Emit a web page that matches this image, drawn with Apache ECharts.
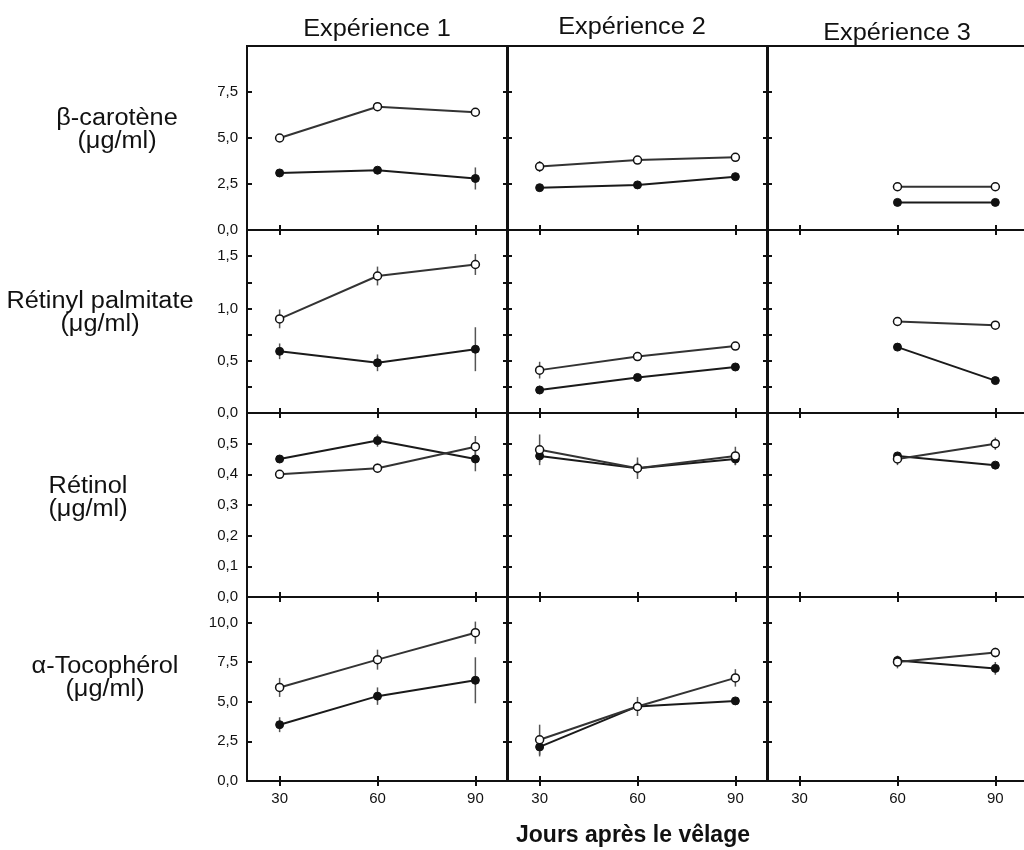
<!DOCTYPE html>
<html>
<head>
<meta charset="utf-8">
<script src="https://cdn.jsdelivr.net/npm/echarts@6/dist/echarts.min.js"></script>
<style>
  html, body { margin: 0; padding: 0; background: #fff; }
  #chart { width: 1024px; height: 850px; }
</style>
</head>
<body>
<div id="chart"></div>
<script>
const days = [30, 60, 90];
const experiences = ['Expérience 1', 'Expérience 2', 'Expérience 3'];
const rowNames = ['β-carotène\n(μg/ml)', 'Rétinyl palmitate\n(μg/ml)', 'Rétinol\n(μg/ml)', 'α-Tocophérol\n(μg/ml)'];
const xTitle = 'Jours après le vêlage';

// one inner array per expérience (30, 60, 90 jours), null = no measure
const caroteneOpen = [[5.0, 6.7, 6.4], [3.45, 3.8, 3.95], [null, 2.35, 2.35]];
const caroteneOpenSd = [[0.2, 0.15, 0.15], [0.3, 0.1, 0.05], [null, 0.05, 0.05]];
const caroteneFilled = [[3.1, 3.25, 2.8], [2.3, 2.45, 2.9], [null, 1.5, 1.5]];
const caroteneFilledSd = [[0.1, 0.15, 0.6], [0.1, 0.1, 0.1], [null, 0.05, 0.05]];

const palmitateOpen = [[0.9, 1.31, 1.42], [0.41, 0.54, 0.64], [null, 0.875, 0.84]];
const palmitateOpenSd = [[0.09, 0.09, 0.1], [0.08, 0.02, 0.02], [null, 0.02, 0.02]];
const palmitateFilled = [[0.59, 0.48, 0.61], [0.22, 0.34, 0.44], [null, 0.63, 0.31]];
const palmitateFilledSd = [[0.075, 0.08, 0.21], [0.04, 0.02, 0.02], [null, 0.02, 0.02]];

const retinolOpen = [[0.40, 0.42, 0.49], [0.48, 0.42, 0.46], [null, 0.45, 0.50]];
const retinolOpenSd = [[0.01, 0.015, 0.035], [0.05, 0.035, 0.03], [null, 0.02, 0.02]];
const retinolFilled = [[0.45, 0.51, 0.45], [0.46, 0.42, 0.45], [null, 0.46, 0.43]];
const retinolFilledSd = [[0.01, 0.02, 0.04], [0.02, 0.02, 0.02], [null, 0.01, 0.01]];

const tocopherolOpen = [[5.9, 7.65, 9.35], [2.6, 4.7, 6.5], [null, 7.5, 8.1]];
const tocopherolOpenSd = [[0.6, 0.63, 0.7], [0.95, 0.6, 0.55], [null, 0.4, 0.3]];
const tocopherolFilled = [[3.55, 5.35, 6.35], [2.15, 4.7, 5.05], [null, 7.6, 7.1]];
const tocopherolFilledSd = [[0.47, 0.55, 1.45], [0.6, 0.2, 0.2], [null, 0.2, 0.4]];

const yMax = [10, 1.75, 0.6, 11.6];
const yTicks = [[0, 2.5, 5, 7.5], [0, 0.25, 0.5, 0.75, 1, 1.25, 1.5], [0, 0.1, 0.2, 0.3, 0.4, 0.5], [0, 2.5, 5, 7.5, 10]];
const yLabels = [[0, 2.5, 5, 7.5], [0, 0.5, 1, 1.5], [0, 0.1, 0.2, 0.3, 0.4, 0.5], [0, 2.5, 5, 7.5, 10]];

const rows = [
  { open: caroteneOpen, openSd: caroteneOpenSd, filled: caroteneFilled, filledSd: caroteneFilledSd },
  { open: palmitateOpen, openSd: palmitateOpenSd, filled: palmitateFilled, filledSd: palmitateFilledSd },
  { open: retinolOpen, openSd: retinolOpenSd, filled: retinolFilled, filledSd: retinolFilledSd },
  { open: tocopherolOpen, openSd: tocopherolOpenSd, filled: tocopherolFilled, filledSd: tocopherolFilledSd }
];

// layout (third panel runs off the right edge)
const colLeft = [247, 507, 767];
const colWidth = [261, 261, 274];
const colMax = [100, 100, 104];
const rowTop = [46, 230, 413, 597];
const rowHeight = [184, 183, 184, 184];
const FONT = '"Liberation Sans", Arial, sans-serif';
const INK = '#111';

const chart = echarts.init(document.getElementById('chart'));

let grid = [], xAxis = [], yAxis = [], series = [];

function fmt(v) {
  return v.toFixed(1).replace('.', ',');
}

function points(vals) {
  let out = [];
  for (let i = 0; i < days.length; i++) {
    if (vals[i] != null) out.push([days[i], vals[i]]);
  }
  return out;
}

function bars(vals, sd) {
  let out = [];
  for (let i = 0; i < days.length; i++) {
    if (vals[i] != null) out.push([days[i], vals[i] - sd[i], vals[i] + sd[i]]);
  }
  return out;
}

function renderBar(params, api) {
  const x = api.value(0);
  const p1 = api.coord([x, api.value(1)]);
  const p2 = api.coord([x, api.value(2)]);
  return {
    type: 'line',
    shape: { x1: p1[0], y1: p1[1], x2: p2[0], y2: p2[1] },
    style: { stroke: '#555', lineWidth: 1.5 }
  };
}

const tickStyle = { show: true, inside: true, length: 5, lineStyle: { color: INK, width: 2 } };

for (let r = 0; r < 4; r++) {
  for (let c = 0; c < 3; c++) {
    const g = r * 3 + c;
    grid.push({
      left: colLeft[c], top: rowTop[r], width: colWidth[c], height: rowHeight[r],
      outerBoundsMode: 'none',
      show: true, borderColor: INK, borderWidth: 2
    });
    // bottom + top x axes
    xAxis.push({
      type: 'value', gridIndex: g, min: 20, max: colMax[c], position: 'bottom',
      axisLine: { show: false }, splitLine: { show: false },
      axisTick: Object.assign({ customValues: days }, tickStyle),
      axisLabel: {
        show: r === 3, customValues: days, margin: 10,
        color: INK, fontSize: 15, fontFamily: FONT
      }
    });
    xAxis.push({
      type: 'value', gridIndex: g, min: 20, max: colMax[c], position: 'top',
      axisLine: { show: false }, splitLine: { show: false },
      axisTick: Object.assign({ customValues: days }, tickStyle),
      axisLabel: { show: false }
    });
    // left + right y axes
    yAxis.push({
      type: 'value', gridIndex: g, min: 0, max: yMax[r], position: 'left',
      axisLine: { show: false }, splitLine: { show: false },
      axisTick: Object.assign({ customValues: yTicks[r] }, tickStyle),
      axisLabel: {
        show: c === 0, customValues: yLabels[r], margin: 9,
        color: INK, fontSize: 15, fontFamily: FONT, formatter: fmt
      }
    });
    yAxis.push({
      type: 'value', gridIndex: g, min: 0, max: yMax[r], position: 'right',
      axisLine: { show: false }, splitLine: { show: false },
      axisTick: Object.assign({ customValues: yTicks[r] }, tickStyle),
      axisLabel: { show: false }
    });

    const d = rows[r];
    const xi = g * 2, yi = g * 2;
    series.push({
      type: 'custom', xAxisIndex: xi, yAxisIndex: yi, z: 2,
      renderItem: renderBar, encode: { x: 0, y: [1, 2] },
      data: bars(d.filled[c], d.filledSd[c])
    });
    series.push({
      type: 'custom', xAxisIndex: xi, yAxisIndex: yi, z: 2,
      renderItem: renderBar, encode: { x: 0, y: [1, 2] },
      data: bars(d.open[c], d.openSd[c])
    });
    series.push({
      type: 'line', xAxisIndex: xi, yAxisIndex: yi, z: 3,
      symbol: 'circle', symbolSize: 8,
      lineStyle: { color: '#1a1a1a', width: 2 },
      itemStyle: { color: INK, borderColor: INK, borderWidth: 1 },
      data: points(d.filled[c])
    });
    series.push({
      type: 'line', xAxisIndex: xi, yAxisIndex: yi, z: 4,
      symbol: 'circle', symbolSize: 8,
      lineStyle: { color: '#333', width: 2 },
      itemStyle: { color: '#fff', borderColor: INK, borderWidth: 1.5 },
      data: points(d.open[c])
    });
  }
}

let graphic = [];
const titleX = [377, 632, 897];
const titleY = [30, 28, 34];
experiences.forEach(function(t, i) {
  graphic.push({
    type: 'text', x: titleX[i], y: titleY[i], scaleX: 1.1,
    style: { text: t, font: '23px ' + FONT, fill: INK, align: 'center', verticalAlign: 'middle' }
  });
});
const nameX = [117, 100, 88, 105];
const nameY = [130, 313, 498, 678];
rowNames.forEach(function(t, i) {
  graphic.push({
    type: 'text', x: nameX[i], y: nameY[i], scaleX: 1.1,
    style: { text: t, font: '23px ' + FONT, fill: INK, align: 'center', verticalAlign: 'middle', lineHeight: 23 }
  });
});
graphic.push({
  type: 'text', x: 633, y: 836,
  style: { text: xTitle, font: 'bold 23px ' + FONT, fill: INK, align: 'center', verticalAlign: 'middle' }
});

chart.setOption({
  animation: false,
  backgroundColor: '#fff',
  grid: grid,
  xAxis: xAxis,
  yAxis: yAxis,
  series: series,
  graphic: graphic
});
</script>
</body>
</html>
